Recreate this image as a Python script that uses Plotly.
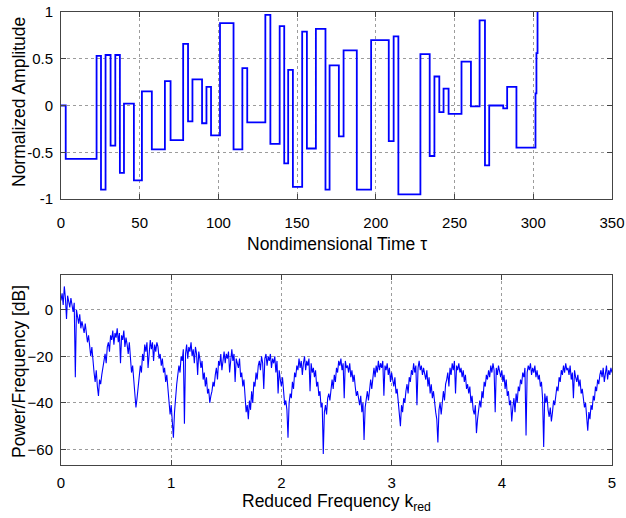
import numpy as np
import plotly.graph_objects as go
from plotly.subplots import make_subplots

# ---- Top panel: step signal (time of each step, value held after it) ----
step_t = [0, 3.0, 22.6, 25.4, 28.3, 31.5, 34.5, 37.4, 40.0, 46.3, 51.4, 57.7, 66.0, 69.6,
          77.6, 80.7, 83.5, 89.6, 92.4, 95.3, 101.0, 109.6, 115.2, 118.3, 129.8, 133.0,
          138.9, 141.8, 144.3, 147.3, 153.2, 156.2, 161.9, 168.0, 170.6, 176.5, 179.5,
          187.9, 197.0, 208.2, 211.3, 214.3, 228.3, 234.2, 237.2, 240.3, 243.0, 246.2,
          254.4, 260.4, 265.9, 269.3, 272.0, 280.9, 283.4, 289.3, 301.4, 302.0, 302.7]
step_v = [0, -0.57, 0.53, -0.90, 0.54, -0.43, 0.54, -0.72, 0.02, -0.80, 0.15, -0.47, 0.26, -0.37,
          0.66, -0.17, 0.28, -0.19, 0.20, -0.32, 0.88, -0.47, 0.40, -0.18, 0.97, -0.41,
          0.85, -0.62, 0.38, -0.87, 0.79, -0.46, 0.82, -0.90, 0.43, -0.33, 0.59,
          -0.90, 0.70, -0.38, 0.74, -0.95, 0.55, -0.54, 0.31, -0.07, 0.18, -0.09,
          0.47, -0.01, 0.91, -0.64, 0.0, -0.03, 0.20, -0.45, 0.13, 0.56, 1.0]

# ---- Bottom panel: power spectral density [dB], sampled every 0.01 in k_red ----
k_step = 0.01
psd_db = [
    4, 7, 2, 10, 5, -4, 6, 3, 1, 5,
    2, -1, 3, -29, 0, -3, -6, -2, -8, -5,
    -7, -10, -6, -12, -14, -11, -17, -20, -16, -24,
    -27, -31, -26, -33, -37, -30, -32, -28, -24, -22,
    -19, -23, -16, -14, -18, -11, -13, -9, -15, -10,
    -12, -8, -14, -10, -23, -11, -13, -9, -16, -12,
    -15, -19, -14, -22, -27, -24, -31, -36, -42, -38,
    -33, -29, -24, -27, -19, -22, -15, -18, -14, -25,
    -16, -13, -17, -14, -22, -15, -18, -14, -16, -21,
    -19, -24, -21, -27, -25, -31, -28, -34, -38, -45,
    -41, -47, -55, -44, -36, -32, -28, -24, -27, -20,
    -22, -17, -49, -19, -15, -21, -16, -18, -14, -20,
    -17, -23, -16, -19, -28, -18, -21, -25, -22, -30,
    -27, -33, -29, -36, -34, -40, -37, -35, -31, -33,
    -28, -25, -30, -22, -24, -19, -26, -21, -18, -23,
    -19, -21, -18, -27, -20, -17, -22, -19, -31, -21,
    -23, -25, -21, -29, -27, -33, -30, -38, -44, -41,
    -47, -39, -43, -35, -40, -31, -33, -27, -30, -24,
    -22, -26, -20, -23, -34, -21, -19, -24, -20, -22,
    -19, -25, -21, -23, -20, -27, -22, -36, -26, -30,
    -33, -29, -37, -41, -39, -43, -55, -40, -36, -38,
    -31, -34, -27, -29, -24, -26, -21, -25, -22, -28,
    -23, -20, -26, -22, -24, -21, -35, -23, -27, -25,
    -29, -26, -33, -31, -37, -35, -42, -40, -62, -44,
    -41, -45, -38, -36, -39, -33, -30, -34, -28, -31,
    -25, -27, -22, -24, -21, -26, -23, -38, -22, -25,
    -24, -27, -23, -29, -26, -31, -28, -33, -37, -35,
    -39, -41, -37, -44, -40, -56, -42, -38, -35, -39,
    -33, -30, -34, -28, -25, -29, -24, -27, -22, -26,
    -23, -25, -22, -37, -24, -26, -23, -28, -25, -31,
    -27, -30, -33, -29, -36, -34, -39, -42, -50, -41,
    -44, -38, -40, -35, -32, -36, -29, -31, -26, -28,
    -23, -27, -24, -41, -25, -22, -26, -24, -28, -25,
    -27, -30, -26, -33, -29, -36, -32, -38, -35, -41,
    -44, -47, -57, -43, -40, -45, -38, -35, -39, -32,
    -30, -27, -33, -25, -28, -23, -26, -22, -36, -24,
    -26, -23, -27, -25, -29, -26, -31, -28, -34, -32,
    -36, -33, -40, -37, -43, -45, -41, -53, -47, -44,
    -39, -42, -35, -38, -31, -33, -28, -30, -26, -29,
    -24, -27, -23, -26, -44, -25, -28, -24, -27, -29,
    -26, -31, -28, -34, -30, -37, -35, -41, -39, -48,
    -42, -38, -44, -36, -40, -33, -35, -30, -32, -27,
    -29, -25, -54, -27, -24, -26, -23, -28, -25, -27,
    -24, -29, -26, -30, -28, -33, -31, -38, -59, -36,
    -40, -37, -43, -46, -42, -48, -44, -39, -41, -36,
    -33, -35, -29, -31, -26, -28, -24, -27, -23, -26,
    -25, -28, -24, -30, -27, -38, -26, -29, -31, -28,
    -33, -30, -36, -34, -39, -42, -40, -46, -52, -44,
    -47, -41, -43, -37, -39, -33, -35, -30, -32, -28,
    -26, -29, -25, -31, -27, -24, -30, -26, -28, -25,
    -27,
]
k_red = np.arange(len(psd_db)) * k_step

top_xticks = [0, 50, 100, 150, 200, 250, 300, 350]
top_yticks = [-1, -0.5, 0, 0.5, 1]
bot_xticks = [0, 1, 2, 3, 4, 5]
bot_yticks = [-60, -40, -20, 0]

FONT = "Liberation Sans, Arial, Helvetica, sans-serif"
W, H = 626, 518
# plot-area edges in window pixels
PL, PR, PT, PB = 61, 612, 12, 465
ML, MR, MT, MB = PL, W - PR, PT, H - PB
PH = H - MT - MB
PW = W - ML - MR

def py(pix):
    return (PB - pix) / PH

def px(pix):
    return (pix - PL) / PW

fig = make_subplots(rows=2, cols=1)
fig.add_trace(go.Scatter(x=step_t, y=step_v, mode="lines", line=dict(color="#0000ff", width=1.8, shape="hv"),
                         showlegend=False), row=1, col=1)
fig.add_trace(go.Scatter(x=k_red, y=psd_db, mode="lines", line=dict(color="#0000ff", width=1.1),
                         showlegend=False), row=2, col=1)

axis_common = dict(showline=True, linecolor="#444444", linewidth=1, mirror="ticks",
                   ticks="inside", ticklen=5, tickcolor="#444444", automargin=False,
                   ticklabeloverflow="allow",
                   showgrid=True, gridcolor="rgba(90,90,90,0.6)", griddash="dot", gridwidth=1,
                   zeroline=False, tickfont=dict(family=FONT, size=15, color="black"))

fig.update_xaxes(**axis_common)
fig.update_yaxes(**axis_common)

fig.update_layout(
    xaxis=dict(domain=[0, 1], range=[0, 350], tickvals=top_xticks, ticklabelstandoff=10),
    yaxis=dict(domain=[py(199), 1], range=[-1, 1], tickvals=top_yticks,
               ticktext=["-1", "-0.5", "0", "0.5", "1"], ticklabelstandoff=4),
    xaxis2=dict(domain=[0, 1], range=[0, 5], tickvals=bot_xticks, ticklabelstandoff=4),
    yaxis2=dict(domain=[0, py(275)], range=[-66.7, 14.9], tickvals=bot_yticks, ticklabelstandoff=4),
    width=W, height=H,
    margin=dict(l=ML, r=MR, t=MT, b=MB, pad=0, autoexpand=False),
    paper_bgcolor="white", plot_bgcolor="white",
    hovermode=False,
    font=dict(family=FONT, color="black"),
    annotations=[
        dict(text="Normalized Amplitude", xref="paper", yref="paper", x=px(19), y=py(102),
             textangle=-90, showarrow=False, xanchor="center", yanchor="middle",
             font=dict(family=FONT, size=17.5, color="black")),
        dict(text="Nondimensional Time \u03c4", xref="paper", yref="paper", x=0.5, y=py(232),
             showarrow=False, xanchor="center", yanchor="top",
             font=dict(family=FONT, size=17.5, color="black")),
        dict(text="Power/Frequency [dB]", xref="paper", yref="paper", x=px(19), y=py(372),
             textangle=-90, showarrow=False, xanchor="center", yanchor="middle",
             font=dict(family=FONT, size=17.5, color="black")),
        dict(text="Reduced Frequency k<sub>red</sub>", xref="paper", yref="paper", x=0.5, y=py(489),
             showarrow=False, xanchor="center", yanchor="top",
             font=dict(family=FONT, size=17.5, color="black")),
    ],
)

# remove the browser's default 8px body margin so the figure sits at the window corner
fig.write_html("out.html",
               config={"displayModeBar": False, "staticPlot": True},
               post_script="document.body.style.margin='0px';document.body.style.overflow='hidden';")
